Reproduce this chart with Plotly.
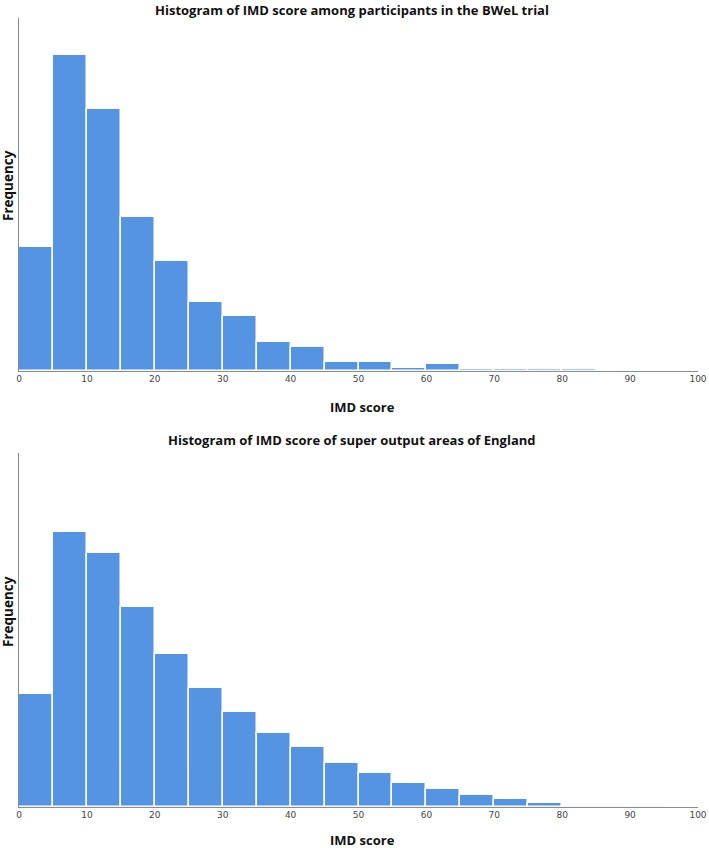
import plotly.graph_objects as go

bin_starts = list(range(0, 100, 5))
tick_values = list(range(0, 101, 10))
tick_labels = [str(v) for v in tick_values]

# Relative frequencies (no y scale shown)
bwel_freq = [124, 316, 262, 154, 110, 69, 55, 29, 24, 8.6, 8.6, 3, 6.3, 2, 1.3, 2, 1.3, 0, 0, 0]
england_freq = [113, 275, 254, 200, 153, 119, 95, 74, 60, 43.5, 34, 24, 17.5, 11.5, 7.2, 3.2, 0.8, 0.3, 0.1, 0]

titles = ["Histogram of IMD score among participants in the BWeL trial",
          "Histogram of IMD score of super output areas of England"]

W, H = 709, 848
BAR_COLOR = "#5594E2"
FONT_T = "Open Sans"

def py(p):
    return 1 - p / H

fig = go.Figure()
centers = [s + 2.5 for s in bin_starts]
fig.add_trace(go.Bar(x=centers, y=bwel_freq, width=5, xaxis="x", yaxis="y",
                     marker=dict(color=BAR_COLOR, line=dict(color="white", width=1.5)),
                     showlegend=False, hoverinfo="x+y"))
fig.add_trace(go.Bar(x=centers, y=england_freq, width=5, xaxis="x2", yaxis="y2",
                     marker=dict(color=BAR_COLOR, line=dict(color="white", width=1.5)),
                     showlegend=False, hoverinfo="x+y"))

xdom = [19 / W, 698 / W]
xaxis_common = dict(range=[0, 100], tickvals=tick_values, ticktext=tick_labels,
                    showgrid=False, zeroline=False, showline=True, linecolor="#8c8c8c",
                    linewidth=1, ticks="", tickfont=dict(family="DejaVu Sans", size=9, color="#444"),
                    domain=xdom, fixedrange=True, automargin=False)
yaxis_common = dict(showgrid=False, zeroline=False, showline=True, linecolor="#8c8c8c",
                    linewidth=1, ticks="", showticklabels=False, fixedrange=True, automargin=False)

fig.update_layout(
    width=W, height=H, autosize=False, margin=dict(l=0, r=0, t=0, b=0, pad=0),
    plot_bgcolor="white", paper_bgcolor="white", bargap=0,
    xaxis=dict(**xaxis_common, anchor="y"),
    yaxis=dict(**yaxis_common, range=[0, 352.5], domain=[py(370.5), py(18)], anchor="x"),
    xaxis2=dict(**xaxis_common, anchor="y2"),
    yaxis2=dict(**yaxis_common, range=[0, 353.5], domain=[py(806.5), py(453)], anchor="x2"),
)

ann = []
for title, ty, xy, fy in [(titles[0], 10, 407, 186), (titles[1], 440, 840, 612)]:
    ann.append(dict(text="<b>" + title + "</b>", x=352 / W, y=py(ty), xref="paper", yref="paper",
                    showarrow=False, xanchor="center", yanchor="middle",
                    font=dict(family=FONT_T, size=13, color="#111")))
    ann.append(dict(text="<b>IMD score</b>", x=362 / W, y=py(xy), xref="paper", yref="paper",
                    showarrow=False, xanchor="center", yanchor="middle",
                    font=dict(family=FONT_T, size=13, color="#111")))
    ann.append(dict(text="<b>Frequency</b>", x=8 / W, y=py(fy), xref="paper", yref="paper",
                    showarrow=False, xanchor="center", yanchor="middle", textangle=-90,
                    font=dict(family=FONT_T, size=13.5, color="#111")))
fig.update_layout(annotations=ann)

fig.write_html("out.html", config={"displayModeBar": False},
               post_script="document.body.style.margin='0px';document.body.style.overflow='hidden';")
